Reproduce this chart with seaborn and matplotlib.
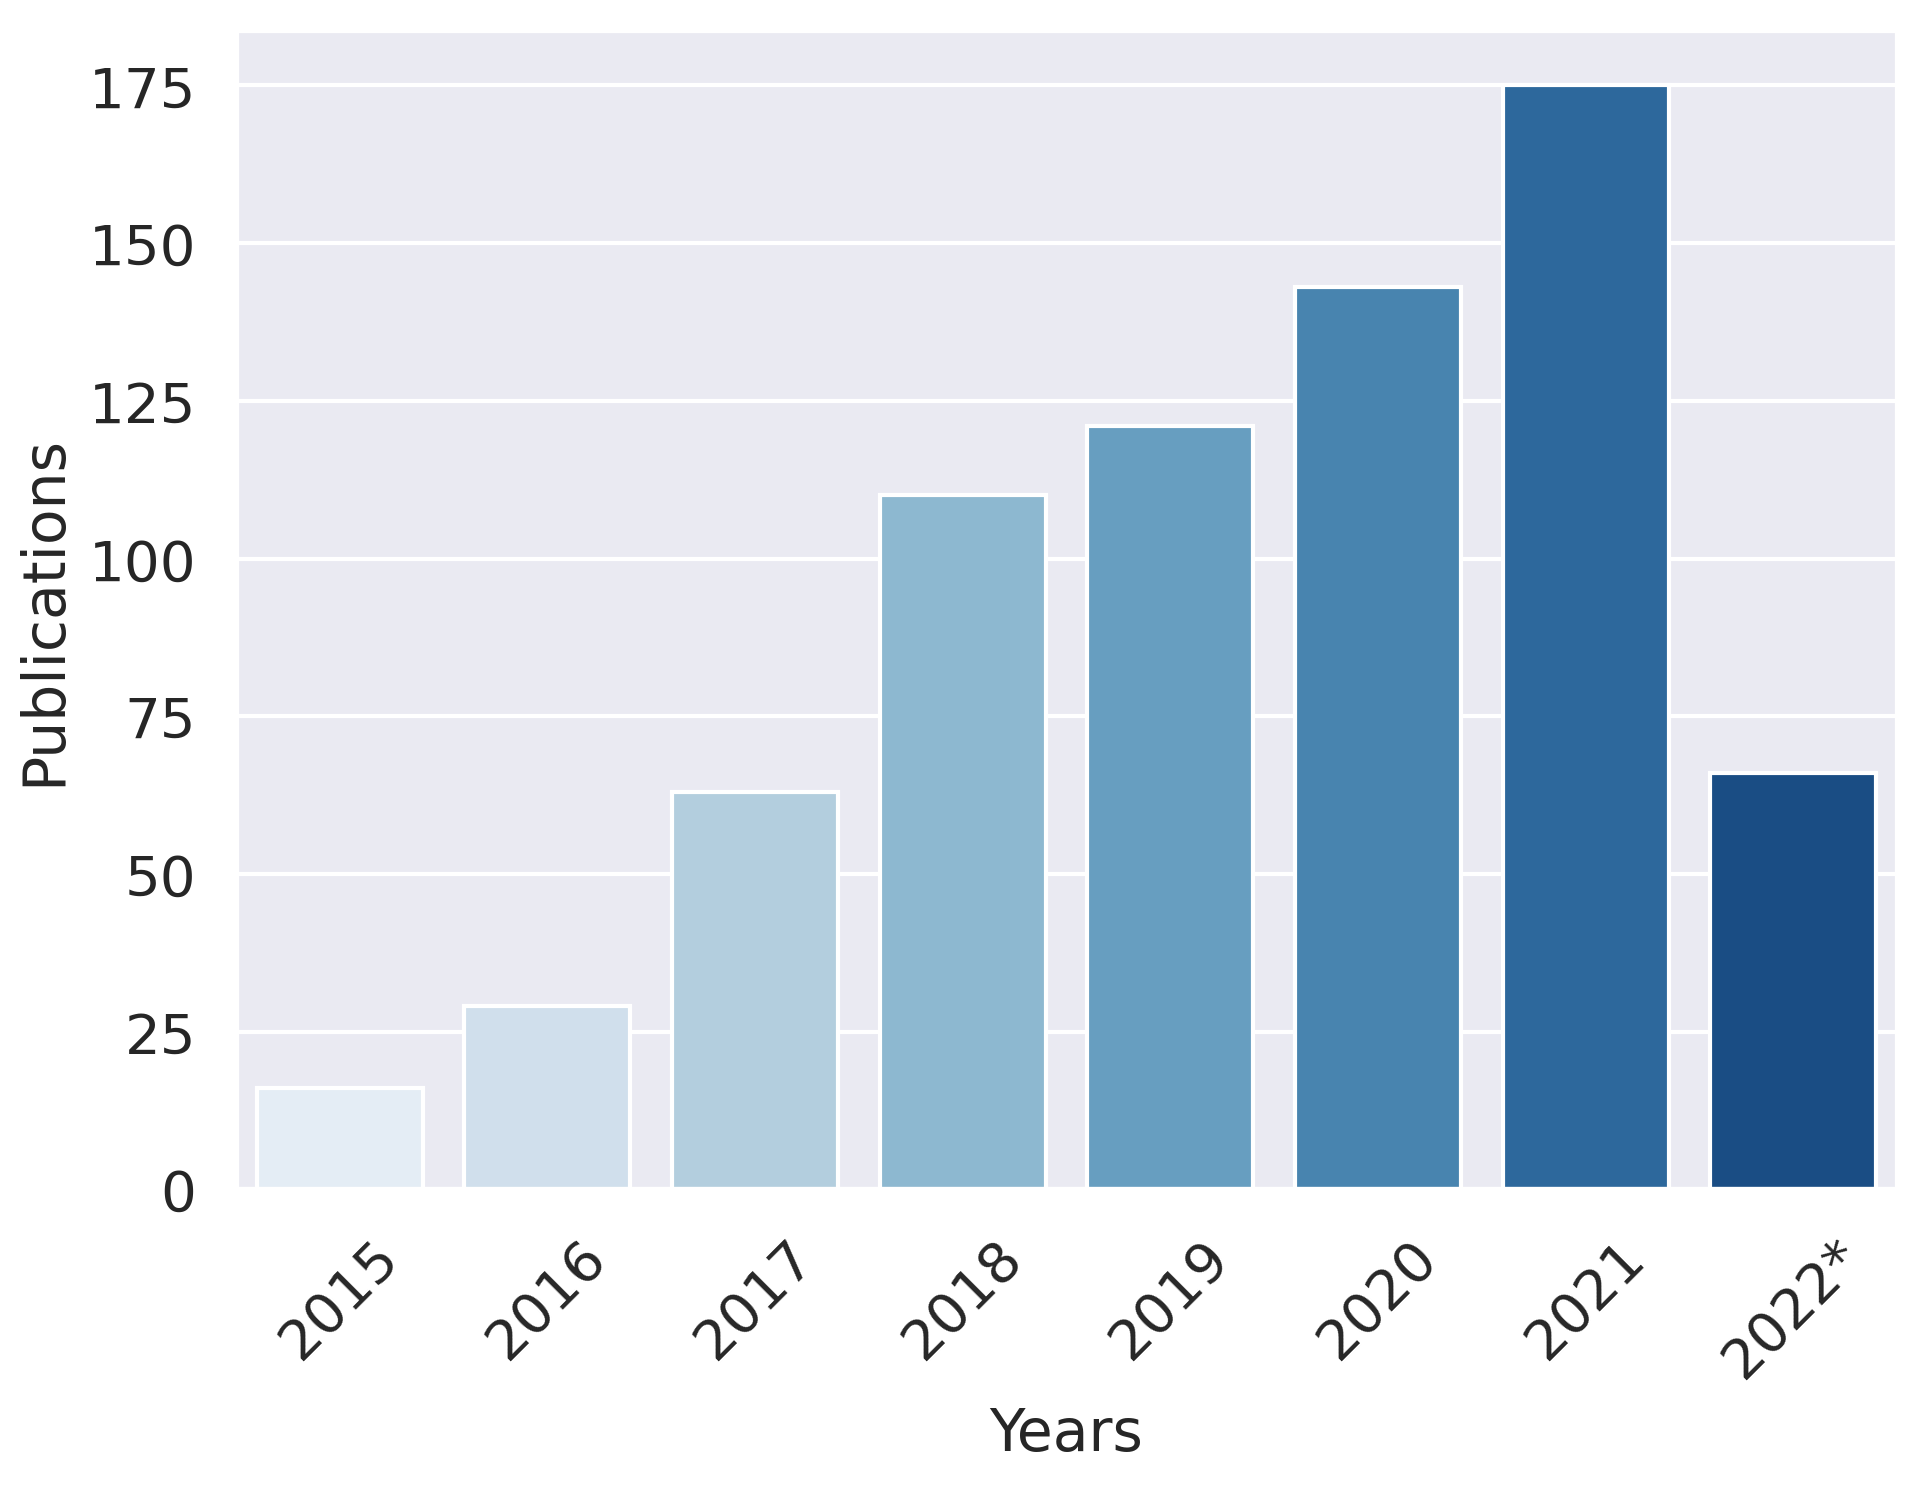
import pandas as pd
import matplotlib.pyplot as plt
import seaborn as sns

years = ["2015", "2016", "2017", "2018", "2019", "2020", "2021", "2022*"]
publications = [16, 29, 63, 110, 121, 143, 175, 66]

df = pd.DataFrame({"Years": years, "Publications": publications})

sns.set_theme(style="darkgrid")
plt.rcParams['font.family'] = ['DejaVu Sans']

fig = plt.figure(figsize=(6.42, 4.953), dpi=300)
ax = fig.add_axes([0.1225, 0.199, 0.8625, 0.78])

sns.barplot(data=df, x="Years", y="Publications", hue="Years",
            palette="Blues", legend=False, ax=ax)

ax.set_xlabel("Years", fontsize=14)
ax.set_ylabel("Publications", fontsize=14)
ax.tick_params(axis="both", labelsize=13.5)
ax.tick_params(axis="x", rotation=45)

fig.savefig("out.png", dpi=300)
plt.close(fig)
